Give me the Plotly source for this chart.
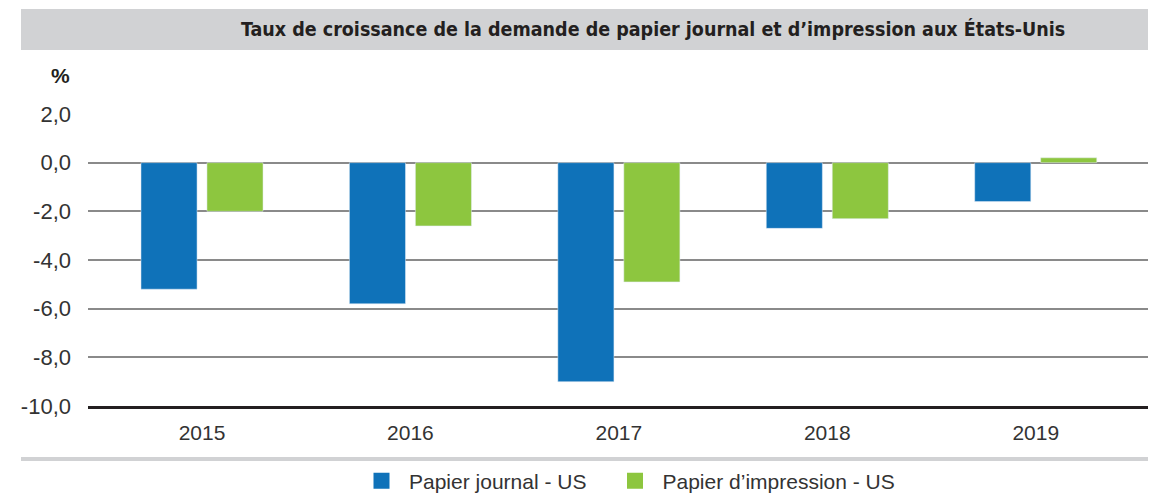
import plotly.graph_objects as go

years = ["2015", "2016", "2017", "2018", "2019"]
papier_journal = [-5.2, -5.8, -9.0, -2.7, -1.6]
papier_impression = [-2.0, -2.6, -4.9, -2.3, 0.2]
series_names = ["Papier journal - US", "Papier d’impression - US"]
y_tickvals = [-10, -8, -6, -4, -2, 0, 2]
y_ticktext = ["-10,0", "-8,0", "-6,0", "-4,0", "-2,0", "0,0", "2,0"]
title_text = "Taux de croissance de la demande de papier journal et d’impression aux États-Unis"

BLUE = "#0f72b9"
GREEN = "#8dc63f"
TXT = "#333333"
BASE_FONT = "Liberation Sans, Arial, sans-serif"
TITLE_FONT = "DejaVu Sans Condensed, DejaVu Sans, sans-serif"

# The page body adds an 8 px margin, so the figure is 8 px smaller and
# reference pixel positions are shifted by 8.
OFF = 8
W, H = 1156 - OFF, 494 - OFF
# plot area in reference pixels: x 88..1156, y 114..406
L, R, T, B = 88 - OFF, 1156 - OFF, 114 - OFF, 406 - OFF
def px(p):
    return (p - OFF - L) / (R - L)
def py(p):
    return (B - (p - OFF)) / (B - T)

fig = go.Figure()
fig.add_trace(go.Bar(x=years, y=papier_journal, marker_color=BLUE, name=series_names[0], showlegend=False))
fig.add_trace(go.Bar(x=years, y=papier_impression, marker_color=GREEN, name=series_names[1], showlegend=False))
# legend swatches (larger squares), one legend each for exact placement
fig.add_trace(go.Scatter(x=[None], y=[None], mode="markers", name=series_names[0], legend="legend",
                         marker=dict(symbol="square", size=17, color=BLUE)))
fig.add_trace(go.Scatter(x=[None], y=[None], mode="markers", name=series_names[1], legend="legend2",
                         marker=dict(symbol="square", size=17, color=GREEN)))

leg_common = dict(orientation="h", xanchor="left", y=py(481), yanchor="middle",
                  font=dict(size=21, color=TXT, family=BASE_FONT), itemwidth=45,
                  itemclick=False, bgcolor="rgba(0,0,0,0)")

fig.update_layout(
    width=W, height=H,
    margin=dict(l=L, r=W - R, t=T, b=H - B, autoexpand=False),
    paper_bgcolor="white", plot_bgcolor="white",
    barmode="group", bargap=0.367, bargroupgap=0.15,
    font=dict(family=BASE_FONT, size=20, color=TXT),
    showlegend=True,
    legend=dict(x=px(354), **leg_common),
    legend2=dict(x=px(607.5), **leg_common),
)

# title bar
fig.add_shape(type="rect", xref="paper", yref="paper", x0=px(21), x1=px(1156), y0=py(50), y1=py(9),
              fillcolor="#d1d2d4", line_width=0, layer="below")
# separator above legend
fig.add_shape(type="rect", xref="paper", yref="paper", x0=px(21), x1=px(1156), y0=py(461), y1=py(457),
              fillcolor="#d1d2d4", line_width=0, layer="below")

fig.add_annotation(text="<b>" + title_text + "</b>", xref="paper", yref="paper", x=px(653), y=py(30),
                   xanchor="center", yanchor="middle", showarrow=False,
                   font=dict(family=TITLE_FONT, size=19.5, color="#231f20"))
fig.add_annotation(text="<b>%</b>", xref="paper", yref="paper", x=px(72), y=py(75),
                   xanchor="right", yanchor="middle", showarrow=False,
                   font=dict(family=BASE_FONT, size=21, color="#231f20"))

fig.update_xaxes(type="category", range=[-0.547, 4.577], showgrid=False,
                 showline=True, linecolor="#231f20", linewidth=3, ticks="",
                 tickfont=dict(size=21, color=TXT), ticklabelstandoff=6)
fig.update_yaxes(range=[-10, 2], tickvals=y_tickvals, ticktext=y_ticktext,
                 showgrid=True, gridcolor="#8a8a8a", gridwidth=2,
                 zeroline=True, zerolinecolor="#8a8a8a", zerolinewidth=2,
                 showline=False, ticks="", tickfont=dict(size=22, color=TXT),
                 ticklabelstandoff=16)

fig.write_html("out.html")
